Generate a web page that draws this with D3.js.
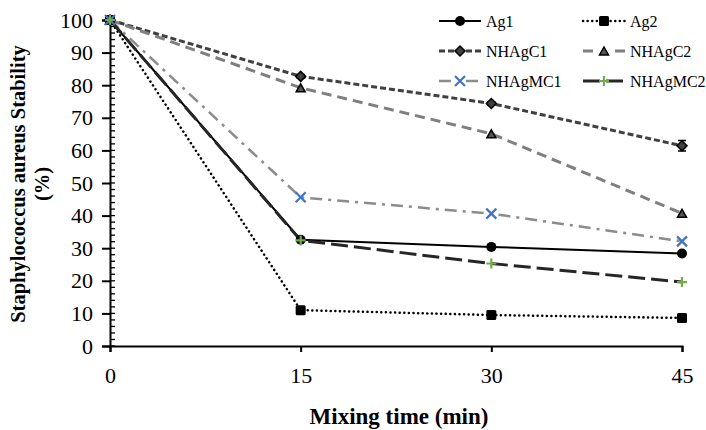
<!DOCTYPE html>
<html>
<head>
<meta charset="utf-8">
<script src="https://cdn.jsdelivr.net/npm/d3@7.9.0/dist/d3.min.js"></script>
<style>
  body { margin: 0; background: #fff; }
  svg text { font-family: "Liberation Serif", "Times New Roman", serif; }
</style>
</head>
<body>
<svg width="706" height="430"></svg>
<script>
// data
const times = [0, 15, 30, 45];
const ag1 = [100, 32.6, 30.4, 28.4];
const ag2 = [100, 11.0, 9.5, 8.6];
const nhagc1 = [100, 82.7, 74.4, 61.4];
const nhagc2 = [100, 79.2, 65.1, 40.7];
const nhagmc1 = [100, 45.6, 40.6, 32.1];
const nhagmc2 = [100, 32.4, 25.3, 19.6];
const errC1 = [0, 0.6, 0.5, 1.6];
const yTicks = [0, 10, 20, 30, 40, 50, 60, 70, 80, 90, 100];

const series = [
  { name: 'Ag1', values: ag1, color: '#000', width: 2, dash: null, marker: 'circle' },
  { name: 'Ag2', values: ag2, color: '#000', width: 2.5, dash: '0.1,4.5', cap: 'round', marker: 'square' },
  { name: 'NHAgC1', values: nhagc1, color: '#404040', width: 3, dash: '6,3', marker: 'diamond', err: errC1 },
  { name: 'NHAgC2', values: nhagc2, color: '#7f7f7f', width: 3, dash: '10,6', marker: 'triangle' },
  { name: 'NHAgMC1', values: nhagmc1, color: '#8c8c8c', width: 2.5, dash: '12,6,3,6', marker: 'x' },
  { name: 'NHAgMC2', values: nhagmc2, color: '#262626', width: 3, dash: '17,6', marker: 'plus' }
];

const svg = d3.select('svg');
const x = d3.scaleLinear().domain([0, 45]).range([110, 682]);
const y = d3.scaleLinear().domain([0, 100]).range([346, 20]);

// minor ticks on y
svg.append('g').selectAll('line')
  .data(d3.range(0, 101, 2))
  .join('line')
  .attr('x1', x(0)).attr('x2', x(0) + 5)
  .attr('y1', d => y(d)).attr('y2', d => y(d))
  .attr('stroke', '#000').attr('stroke-width', 1.3);

const yAxis = svg.append('g')
  .attr('transform', `translate(${x(0)},0)`)
  .call(d3.axisLeft(y).tickValues(yTicks).tickSize(8).tickPadding(9));
const xAxis = svg.append('g')
  .attr('transform', `translate(0,${y(0)})`)
  .call(d3.axisBottom(x).tickValues(times).tickSize(6).tickPadding(15));
[yAxis, xAxis].forEach(a => {
  a.select('.domain').attr('stroke-width', 2).attr('stroke', '#000');
  a.selectAll('.tick line').attr('stroke-width', 2);
  a.selectAll('text').attr('font-size', 22).attr('fill', '#000')
    .attr('font-family', '"Liberation Serif", serif');
});

// axis titles
svg.append('text')
  .attr('x', 399).attr('y', 424)
  .attr('text-anchor', 'middle')
  .attr('font-size', 23).attr('font-weight', 'bold')
  .text('Mixing time (min)');
const yt = svg.append('text')
  .attr('transform', 'translate(25,184) rotate(-90)')
  .attr('text-anchor', 'middle')
  .attr('font-size', 20.5).attr('font-weight', 'bold');
yt.append('tspan').attr('x', 0).attr('dy', 0).text('Staphylococcus aureus Stability');
yt.append('tspan').attr('x', 0).attr('dy', 24).text('(%)');

const line = d3.line().x((d, i) => x(times[i])).y(d => y(d));

function drawMarker(g, type, cx, cy) {
  if (type === 'circle') g.append('circle').attr('cx', cx).attr('cy', cy).attr('r', 5).attr('fill', '#000');
  else if (type === 'square') g.append('rect').attr('x', cx - 5).attr('y', cy - 5).attr('width', 10).attr('height', 10).attr('rx', 1.5).attr('fill', '#000');
  else if (type === 'diamond') g.append('path').attr('d', `M${cx},${cy - 5}L${cx + 5},${cy}L${cx},${cy + 5}L${cx - 5},${cy}Z`)
    .attr('fill', '#404040').attr('stroke', '#000').attr('stroke-width', 1.5);
  else if (type === 'triangle') g.append('path').attr('d', `M${cx},${cy - 4}L${cx + 4.5},${cy + 4}L${cx - 4.5},${cy + 4}Z`)
    .attr('fill', '#555').attr('stroke', '#000').attr('stroke-width', 1.5);
  else if (type === 'x') g.append('path').attr('d', `M${cx - 5},${cy - 5}L${cx + 5},${cy + 5}M${cx - 5},${cy + 5}L${cx + 5},${cy - 5}`)
    .attr('stroke', '#4472c4').attr('stroke-width', 2.2);
  else if (type === 'plus') g.append('path').attr('d', `M${cx - 5},${cy}L${cx + 5},${cy}M${cx},${cy - 5}L${cx},${cy + 5}`)
    .attr('stroke', '#70ad47').attr('stroke-width', 2.2);
}

const lines = svg.append('g');
series.forEach(s => {
  lines.append('path')
    .datum(s.values)
    .attr('d', line)
    .attr('fill', 'none')
    .attr('stroke', s.color)
    .attr('stroke-width', s.width)
    .attr('stroke-dasharray', s.dash)
    .attr('stroke-linecap', s.cap || 'butt');
});
const marks = svg.append('g');
series.forEach(s => {
  s.values.forEach((v, i) => {
    if (s.err && s.err[i] > 0) {
      const e = s.err[i];
      marks.append('path')
        .attr('d', `M${x(times[i]) - 4},${y(v + e)}H${x(times[i]) + 4}M${x(times[i])},${y(v + e)}V${y(v - e)}M${x(times[i]) - 4},${y(v - e)}H${x(times[i]) + 4}`)
        .attr('stroke', '#000').attr('stroke-width', 1.5).attr('fill', 'none');
    }
    drawMarker(marks, s.marker, x(times[i]), y(v));
  });
});

// legend
const legCols = [439, 583];
const legRows = [21, 51, 81];
const leg = svg.append('g');
series.forEach((s, i) => {
  const lx = legCols[i % 2], ly = legRows[Math.floor(i / 2)];
  leg.append('line')
    .attr('x1', lx).attr('x2', lx + 42).attr('y1', ly).attr('y2', ly)
    .attr('stroke', s.color).attr('stroke-width', s.width)
    .attr('stroke-dasharray', s.dash).attr('stroke-linecap', s.cap || 'butt');
  if (s.marker === 'triangle' || s.marker === 'x') {
    leg.append('rect').attr('x', lx + 15).attr('y', ly - 6).attr('width', 12).attr('height', 12).attr('fill', '#fff');
  }
  drawMarker(leg, s.marker, lx + 21, ly);
  leg.append('text')
    .attr('x', lx + 47).attr('y', ly + 6)
    .attr('font-size', 16).attr('fill', '#000')
    .text(s.name);
});
</script>
</body>
</html>
